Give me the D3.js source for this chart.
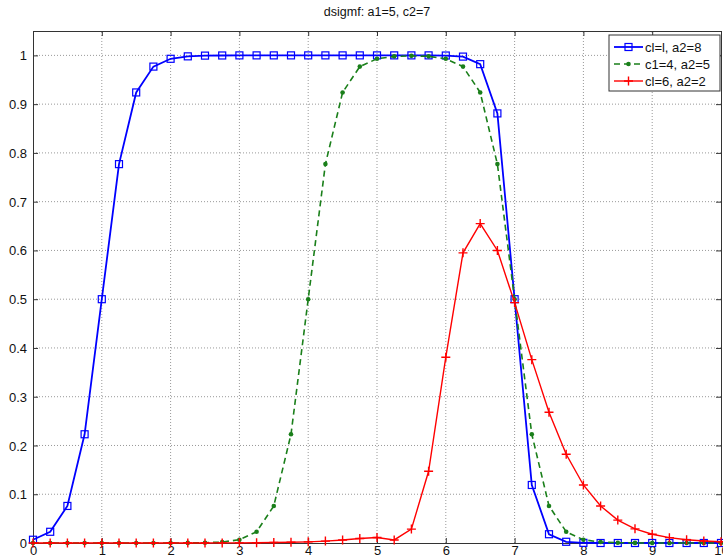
<!DOCTYPE html>
<html>
<head>
<meta charset="utf-8">
<script src="https://cdn.jsdelivr.net/npm/d3@7"></script>
<style>
  body { margin: 0; background: #fff; }
  text { font-family: "Liberation Sans", Arial, sans-serif; }
</style>
</head>
<body>
<div id="chart"></div>
<script>
// x samples 0:0.25:10
const xs = [0,0.25,0.5,0.75,1,1.25,1.5,1.75,2,2.25,2.5,2.75,3,3.25,3.5,3.75,4,4.25,4.5,4.75,5,
  5.25,5.5,5.75,6,6.25,6.5,6.75,7,7.25,7.5,7.75,8,8.25,8.5,8.75,9,9.25,9.5,9.75,10];

// values
const blueVals = [0.0067,0.023,0.076,0.223,0.5,0.777,0.924,0.977,0.993,0.998,0.9995,0.9998,1,1,1,1,1,1,1,1,1,
  1,1,1,0.9997,0.9975,0.982,0.881,0.5,0.119,0.018,0.0025,0.0003,0,0,0,0,0,0,0,0];
const greenVals = [0,0,0,0,0,0,0,0,0,0.0002,0.0006,0.0019,0.0067,0.023,0.076,0.223,0.5,0.777,0.924,0.977,0.993,
  0.998,0.999,0.998,0.993,0.977,0.924,0.777,0.5,0.223,0.076,0.023,0.0067,0.0019,0.0006,0.0002,0,0,0,0,0];
const redVals = [0,0,0,0,0,0,0,0,0,0,0.0001,0.0002,0.0003,0.0005,0.0009,0.0015,0.0024,0.0039,0.0061,0.0091,0.0113,
  0.0063,0.0285,0.147,0.381,0.595,0.655,0.6,0.493,0.376,0.268,0.182,0.119,0.076,0.047,0.029,0.018,0.011,0.0067,0.0041,0.0025];

const legendLabels = ["cl=l, a2=8", "c1=4, a2=5", "cl=6, a2=2"];
const xTicks = [0,1,2,3,4,5,6,7,8,9,10];
const yTicks = [0,0.1,0.2,0.3,0.4,0.5,0.6,0.7,0.8,0.9,1];

const width = 723, height = 558;
const margin = {top: 31, right: 2, bottom: 15, left: 33};

const svg = d3.select("#chart").append("svg")
  .attr("width", width).attr("height", height);

const x = d3.scaleLinear().domain([0, 10]).range([margin.left, width - margin.right]);
const y = d3.scaleLinear().domain([0, 1.05]).range([height - margin.bottom, margin.top]);

// grid
svg.append("g").selectAll("line").data(xTicks.slice(1, -1)).enter().append("line")
  .attr("x1", d => x(d)).attr("x2", d => x(d))
  .attr("y1", y(0)).attr("y2", y(1.05))
  .attr("stroke", "#999").attr("stroke-dasharray", "1,2");
svg.append("g").selectAll("line").data(yTicks.slice(1)).enter().append("line")
  .attr("y1", d => y(d)).attr("y2", d => y(d))
  .attr("x1", x(0)).attr("x2", x(10))
  .attr("stroke", "#999").attr("stroke-dasharray", "1,2");

// axes (ticks inside, box on)
const fontSz = "13px";
const xAxis = svg.append("g").attr("transform", `translate(0,${y(0)})`)
  .call(d3.axisBottom(x).tickValues(xTicks).tickSize(-5).tickPadding(3).tickFormat(d3.format("d")));
const yAxis = svg.append("g").attr("transform", `translate(${x(0)},0)`)
  .call(d3.axisLeft(y).tickValues(yTicks).tickSize(-5).tickPadding(6).tickFormat(d3.format(".1~f")));
const xTop = svg.append("g").attr("transform", `translate(0,${y(1.05)})`)
  .call(d3.axisTop(x).tickValues(xTicks).tickSize(-5).tickFormat(""));
const yRight = svg.append("g").attr("transform", `translate(${x(10)},0)`)
  .call(d3.axisRight(y).tickValues(yTicks).tickSize(-5).tickFormat(""));
[xAxis, yAxis, xTop, yRight].forEach(g => {
  g.select(".domain").attr("stroke", "#333");
  g.selectAll(".tick line").attr("stroke", "#333");
  g.selectAll("text").attr("font-size", fontSz).attr("fill", "#111")
    .style("font-family", "'Liberation Sans', Arial, sans-serif");
});
yAxis.selectAll("text").attr("dy", "0.35em");

// title
svg.append("text").attr("x", (x(0) + x(10)) / 2).attr("y", 16)
  .attr("text-anchor", "middle").attr("font-size", "12.5px").attr("fill", "#111")
  .text("dsigmf: a1=5, c2=7");

const series = [
  {vals: blueVals, color: "#0000ff", dash: null, width: 1.8, marker: "square"},
  {vals: greenVals, color: "#1a7f1a", dash: "6,4", width: 1.6, marker: "dot"},
  {vals: redVals, color: "#ff0000", dash: null, width: 1.4, marker: "plus"}
];

const line = d3.line().x((d, i) => x(xs[i])).y(d => y(d));

function drawMarker(g, kind, cx, cy, color) {
  if (kind === "square") {
    g.append("rect").attr("x", cx - 3.5).attr("y", cy - 3.5).attr("width", 7).attr("height", 7)
      .attr("fill", "none").attr("stroke", color).attr("stroke-width", 1.2);
  } else if (kind === "dot") {
    g.append("circle").attr("cx", cx).attr("cy", cy).attr("r", 2.3).attr("fill", color);
  } else {
    g.append("path").attr("d", `M${cx - 4.5},${cy}H${cx + 4.5}M${cx},${cy - 4.5}V${cy + 4.5}`)
      .attr("stroke", color).attr("stroke-width", 1.4);
  }
}

series.forEach(s => {
  svg.append("path").datum(s.vals).attr("d", line)
    .attr("fill", "none").attr("stroke", s.color).attr("stroke-width", s.width)
    .attr("stroke-dasharray", s.dash);
  const mg = svg.append("g");
  s.vals.forEach((v, i) => drawMarker(mg, s.marker, x(xs[i]), y(v), s.color));
});

// legend
const lg = svg.append("g");
lg.append("rect").attr("x", 609).attr("y", 35).attr("width", 111).attr("height", 56)
  .attr("fill", "#fff").attr("stroke", "#333");
series.forEach((s, i) => {
  const ly = 47 + i * 17;
  lg.append("line").attr("x1", 614).attr("x2", 643).attr("y1", ly).attr("y2", ly)
    .attr("stroke", s.color).attr("stroke-width", s.width).attr("stroke-dasharray", s.dash);
  drawMarker(lg, s.marker, 628.5, ly, s.color);
  lg.append("text").attr("x", 645).attr("y", ly).attr("dy", "0.36em")
    .attr("font-size", "13px").attr("fill", "#111").text(legendLabels[i]);
});
</script>
</body>
</html>
